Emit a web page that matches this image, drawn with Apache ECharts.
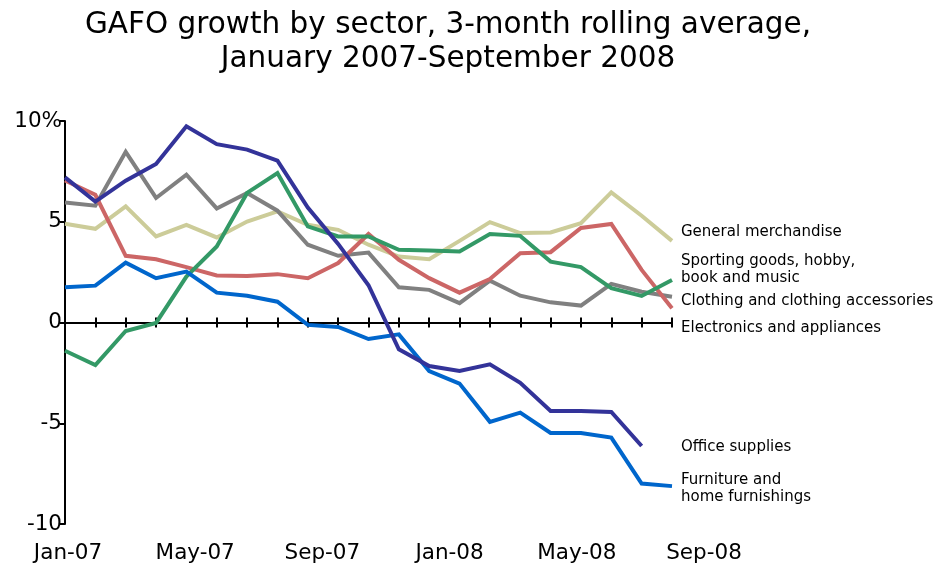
<!DOCTYPE html>
<html>
<head>
<meta charset="utf-8">
<script src="https://cdn.jsdelivr.net/npm/echarts@6/dist/echarts.min.js"></script>
<style>
  html, body { margin: 0; padding: 0; background: #fff; }
  #chart { width: 938px; height: 565px; }
</style>
</head>
<body>
<div id="chart"></div>
<script>
// Months, January 2007 through September 2008
const months = ['Jan-07','Feb-07','Mar-07','Apr-07','May-07','Jun-07','Jul-07','Aug-07','Sep-07','Oct-07','Nov-07','Dec-07',
                'Jan-08','Feb-08','Mar-08','Apr-08','May-08','Jun-08','Jul-08','Aug-08','Sep-08'];

// 3-month rolling average growth, percent
const generalMerchandise = [4.9, 4.65, 5.76, 4.27, 4.84, 4.22, 5.01, 5.51, 4.85, 4.6, 3.86, 3.27, 3.14, 4.05, 4.98, 4.44, 4.47, 4.93, 6.46, 5.3, 4.05];
const sportingGoods      = [-1.4, -2.11, -0.42, -0.02, 2.28, 3.77, 6.43, 7.42, 4.77, 4.27, 4.27, 3.61, 3.57, 3.52, 4.39, 4.3, 3.02, 2.75, 1.7, 1.32, 2.11];
const clothing           = [5.96, 5.8, 8.47, 6.18, 7.34, 5.66, 6.43, 5.55, 3.86, 3.31, 3.47, 1.75, 1.62, 0.96, 2.08, 1.33, 1.0, 0.84, 1.92, 1.53, 1.28];
const electronics        = [7.05, 6.34, 3.31, 3.14, 2.75, 2.33, 2.31, 2.4, 2.2, 2.95, 4.39, 3.11, 2.2, 1.48, 2.16, 3.44, 3.49, 4.69, 4.89, 2.61, 0.71];
const officeSupplies     = [7.2, 6.0, 7.04, 7.87, 9.74, 8.85, 8.58, 8.03, 5.7, 3.9, 1.85, -1.33, -2.16, -2.41, -2.08, -2.99, -4.39, -4.39, -4.44, -6.13, null];
const furniture          = [1.75, 1.83, 2.97, 2.2, 2.53, 1.48, 1.33, 1.03, -0.12, -0.22, -0.82, -0.59, -2.41, -3.03, -4.93, -4.47, -5.48, -5.48, -5.71, -7.99, -8.12];

// Month labels shown along the bottom
const shownMonths = ['Jan-07', 'May-07', 'Sep-07', 'Jan-08', 'May-08', 'Sep-08'];

const FONT = 'Verdana, DejaVu Sans, sans-serif';

function line(name, data, color) {
  return {
    name, type: 'line', data,
    xAxisIndex: 0, yAxisIndex: 0,
    showSymbol: false, symbol: 'none',
    lineStyle: { color, width: 4, join: 'miter' },
    itemStyle: { color },
    connectNulls: false,
    animation: false
  };
}

const chart = echarts.init(document.getElementById('chart'), null, { renderer: 'canvas' });

const sideText = (top, text) => ({
  type: 'text', left: 681, top,
  style: { text, font: '15px ' + FONT, fill: '#000', lineHeight: 17.5 }
});

chart.setOption({
  animation: false,
  backgroundColor: '#fff',
  grid: [
    { left: 65, right: 266, top: 121, bottom: 41, containLabel: false },
    { left: 68, right: 234, top: 121, bottom: 41, containLabel: false }
  ],
  xAxis: [
    {
      type: 'category', gridIndex: 0, data: months, boundaryGap: false, position: 'bottom',
      axisLine: { onZero: true, onZeroAxisIndex: 0, lineStyle: { color: '#000', width: 2 } },
      axisTick: { show: true, interval: 0, length: 5, lineStyle: { color: '#000', width: 2 } },
      axisLabel: { show: false }, splitLine: { show: false }
    },
    {
      type: 'category', gridIndex: 0, data: months, boundaryGap: false, position: 'top',
      axisLine: { onZero: true, onZeroAxisIndex: 0, lineStyle: { color: '#000', width: 2 } },
      axisTick: { show: true, interval: 0, length: 5, lineStyle: { color: '#000', width: 2 } },
      axisLabel: { show: false }, splitLine: { show: false }
    },
    {
      type: 'category', gridIndex: 1, data: months, boundaryGap: false, position: 'bottom',
      axisLine: { show: false }, axisTick: { show: false }, splitLine: { show: false },
      axisLabel: {
        interval: 0, margin: 18,
        formatter: v => shownMonths.includes(v) ? v : '',
        fontFamily: FONT, fontSize: 21.5, color: '#000'
      }
    }
  ],
  yAxis: [
    {
      type: 'value', gridIndex: 0, min: -10, max: 10, interval: 5,
      axisLine: { show: true, onZero: false, lineStyle: { color: '#000', width: 2 } },
      axisTick: { show: true, length: 5, lineStyle: { color: '#000', width: 2 } },
      splitLine: { show: false },
      axisLabel: {
        margin: 3, fontFamily: FONT, fontSize: 21.5, color: '#000',
        formatter: v => v === 10 ? '10%' : String(v)
      }
    },
    { type: 'value', gridIndex: 1, min: -10, max: 10, show: false }
  ],
  series: [
    line('General merchandise', generalMerchandise, '#cccc99'),
    line('Clothing and clothing accessories', clothing, '#808080'),
    line('Electronics and appliances', electronics, '#cc6666'),
    line('Sporting goods, hobby, book and music', sportingGoods, '#339966'),
    line('Furniture and home furnishings', furniture, '#0066cc'),
    line('Office supplies', officeSupplies, '#333399')
  ],
  graphic: [
    {
      type: 'text', x: 448, y: 8,
      style: {
        text: 'GAFO growth by sector, 3-month rolling average,\nJanuary 2007-September 2008',
        font: '29.5px ' + FONT, fill: '#000', align: 'center', lineHeight: 34
      }
    },
    sideText(223, 'General merchandise'),
    sideText(252, 'Sporting goods, hobby,\nbook and music'),
    sideText(292, 'Clothing and clothing accessories'),
    sideText(319, 'Electronics and appliances'),
    sideText(438, 'Office supplies'),
    sideText(471, 'Furniture and\nhome furnishings')
  ]
});
</script>
</body>
</html>
